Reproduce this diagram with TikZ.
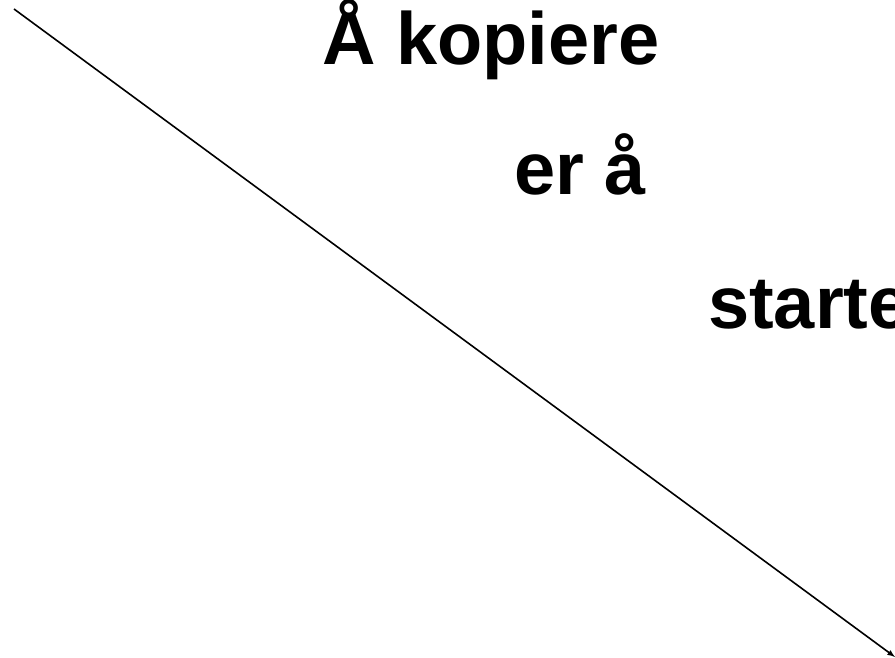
\documentclass[tikz,border=0pt]{standalone}
\usepackage{fontspec}
\setmainfont{Liberation Sans}
\usetikzlibrary{positioning,arrows}

\tikzset{
    slide/.style={font=\fontsize{74}{80}\selectfont\bfseries, inner sep=0pt, anchor=base west}
}

\begin{document}
\begin{tikzpicture}[x=1pt, y=-1pt]
    % Frame of the slide (text runs off the right edge)
    \useasboundingbox (0,0) rectangle (895,658);
    \clip (0,0) rectangle (895,658);
    \fill[white] (0,0) rectangle (895,658);

    % Diagonal arrow
    \coordinate (start) at (14,9);
    \coordinate (end) at (895,657);
    \draw[-latex, line width=1.6pt] (start) -- (end);

    % Text lines
    \node[slide] (line1) at (322,65) {Å kopiere};
    \node[slide] (line2) at (514,195) {er å};
    \node[slide] (line3) at (708,328) {starte};
\end{tikzpicture}
\end{document}
